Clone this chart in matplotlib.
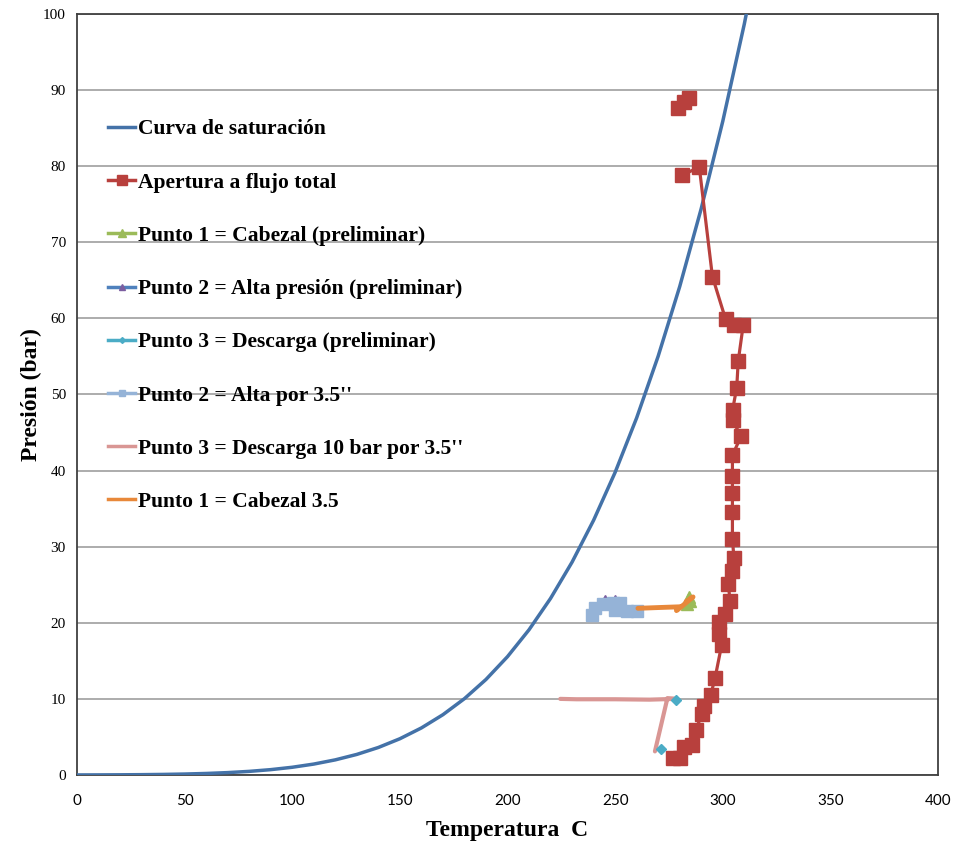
import matplotlib
matplotlib.use("Agg")
import matplotlib.pyplot as plt
from matplotlib.lines import Line2D

SERIF = "Liberation Serif"

# saturation curve of water (steam table), T in C, P in bar
sat_t = [0, 10, 20, 30, 40, 50, 60, 70, 80, 90, 100, 110, 120, 130, 140, 150,
         160, 170, 180, 190, 200, 210, 220, 230, 240, 250, 260, 270, 280, 290,
         300, 310, 320]
sat_p = [0.0061, 0.0123, 0.0234, 0.0425, 0.0738, 0.1235, 0.1995, 0.312, 0.474,
         0.702, 1.014, 1.434, 1.987, 2.703, 3.615, 4.762, 6.182, 7.922, 10.03,
         12.55, 15.55, 19.08, 23.20, 27.97, 33.47, 39.76, 46.92, 55.03, 64.17,
         74.42, 85.88, 98.65, 112.84]

# apertura a flujo total (top cluster is a separate segment)
ap_top_t = [279.2, 282.0, 284.3]
ap_top_p = [87.6, 88.4, 89.0]
ap_t = [281.2, 289.1, 295.2, 301.3, 305.2, 309.5, 307.2, 306.5, 304.6, 304.6,
        308.5, 304.5, 304.5, 304.5, 304.5, 304.5, 305.2, 304.1, 302.6, 303.4,
        301.2, 298.4, 298.4, 299.5, 296.4, 294.4, 291.3, 290.4, 287.4, 285.6,
        282.0, 280.1, 277.1]
ap_p = [78.8, 79.9, 65.5, 59.9, 59.1, 59.1, 54.4, 50.9, 48.0, 46.6,
        44.5, 42.0, 39.3, 37.1, 34.5, 31.0, 28.5, 26.8, 25.1, 22.8,
        21.2, 20.1, 18.5, 17.1, 12.7, 10.5, 9.0, 8.0, 5.9, 3.9,
        3.7, 2.2, 2.2]

p1_t = [283.5, 285.0, 284.5, 283.8]
p1_p = [22.5, 22.8, 23.4, 23.0]

p2_t = [245.3, 247.5, 250.0]
p2_p = [23.3, 22.6, 23.3]

p3_t = [278.3, 271.2]
p3_p = [9.9, 3.4]

p2b_t = [239.1, 240.6, 244.5, 249.0, 252.3, 250.0, 255.4, 260.0]
p2b_p = [21.0, 21.9, 22.5, 22.6, 22.6, 21.7, 21.5, 21.5]

p3b_t = [224.5, 232.0, 250.0, 266.0, 278.0, 274.3, 268.5]
p3b_p = [10.0, 9.95, 9.95, 9.9, 10.0, 10.1, 3.1]

p1b_t = [260.6, 270.0, 280.1, 278.5, 282.0, 286.2, 283.0]
p1b_p = [21.9, 22.0, 22.1, 21.6, 22.4, 23.4, 22.8]

BLUE = "#4472A8"; RED = "#B8403D"; GREEN = "#9BBB59"; PURPLE = "#7B5EA0"
MBLUE = "#4F81BD"; TEAL = "#4BACC6"; LBLUE = "#95B3D7"; PINK = "#D99694"
ORANGE = "#E8883A"

fig = plt.figure(figsize=(9.65, 8.41), dpi=100)
ax = fig.add_axes([0.0798, 0.0785, 0.8922, 0.9049])

ax.plot(sat_t, sat_p, color=BLUE, lw=2.5, zorder=3)
ax.plot(ap_top_t, ap_top_p, color=RED, lw=2.3, marker="s", ms=10, mec=RED, zorder=4)
ax.plot(ap_t, ap_p, color=RED, lw=2.3, marker="s", ms=10, mec=RED, zorder=4)
ax.plot(p1_t, p1_p, color=GREEN, lw=2.3, marker="^", ms=8, zorder=4)
ax.plot(p2_t, p2_p, color=MBLUE, lw=1.5, marker="^", ms=5, mfc=PURPLE, mec=PURPLE, zorder=4)
ax.plot(p3_t, p3_p, ls="none", marker="D", ms=5, color=TEAL, zorder=6)
ax.plot(p2b_t, p2b_p, color=LBLUE, lw=2.3, marker="s", ms=8, mec=LBLUE, zorder=5)
ax.plot(p3b_t, p3b_p, color=PINK, lw=3, solid_capstyle="round", zorder=5)
ax.plot(p1b_t, p1b_p, color=ORANGE, lw=3.5, solid_capstyle="round", zorder=5)

ax.set_xlim(0, 400)
ax.set_ylim(0, 100)
ax.set_xticks(range(0, 401, 50))
ax.set_yticks(range(0, 101, 10))
ax.grid(axis="y", color="#A6A6A6", lw=1.3)
ax.set_axisbelow(True)
for s in ax.spines.values():
    s.set_color("#404040")
    s.set_linewidth(1.3)
ax.tick_params(axis="y", length=0, pad=8)
ax.tick_params(axis="x", length=0, pad=14)
for t in ax.get_yticklabels():
    t.set_fontfamily(SERIF)
    t.set_fontsize(11)
for t in ax.get_xticklabels():
    t.set_fontfamily("Lato")
    t.set_fontsize(11)

ax.set_ylabel("Presión (bar)", fontfamily=SERIF, fontweight="bold", fontsize=17, labelpad=1)
ax.set_xlabel("Temperatura  C", fontfamily=SERIF, fontweight="bold", fontsize=17, labelpad=8)

labels = ["Curva de saturación", "Apertura a flujo total",
          "Punto 1 = Cabezal (preliminar)", "Punto 2 = Alta presión (preliminar)",
          "Punto 3 = Descarga (preliminar)", "Punto 2 = Alta por 3.5''",
          "Punto 3 = Descarga 10 bar por 3.5''", "Punto 1 = Cabezal 3.5"]
handles = [
    Line2D([], [], color=BLUE, lw=2.5),
    Line2D([], [], color=RED, lw=2.5, marker="s", ms=7, mec=RED),
    Line2D([], [], color=GREEN, lw=2.5, marker="^", ms=6),
    Line2D([], [], color=MBLUE, lw=2.5, marker="^", ms=5, mfc=PURPLE, mec=PURPLE),
    Line2D([], [], color=TEAL, lw=2.5, marker="D", ms=3),
    Line2D([], [], color=LBLUE, lw=2.5, marker="s", ms=5, mec=LBLUE),
    Line2D([], [], color=PINK, lw=2.5),
    Line2D([], [], color=ORANGE, lw=2.5),
]
ax.legend(handles, labels, loc="upper left", bbox_to_anchor=(0.014, 0.887),
          frameon=False, handlelength=1.25, handletextpad=0.12, labelspacing=1.54,
          prop={"family": SERIF, "weight": "bold", "size": 15.5})

fig.savefig("out.png", dpi=100)
